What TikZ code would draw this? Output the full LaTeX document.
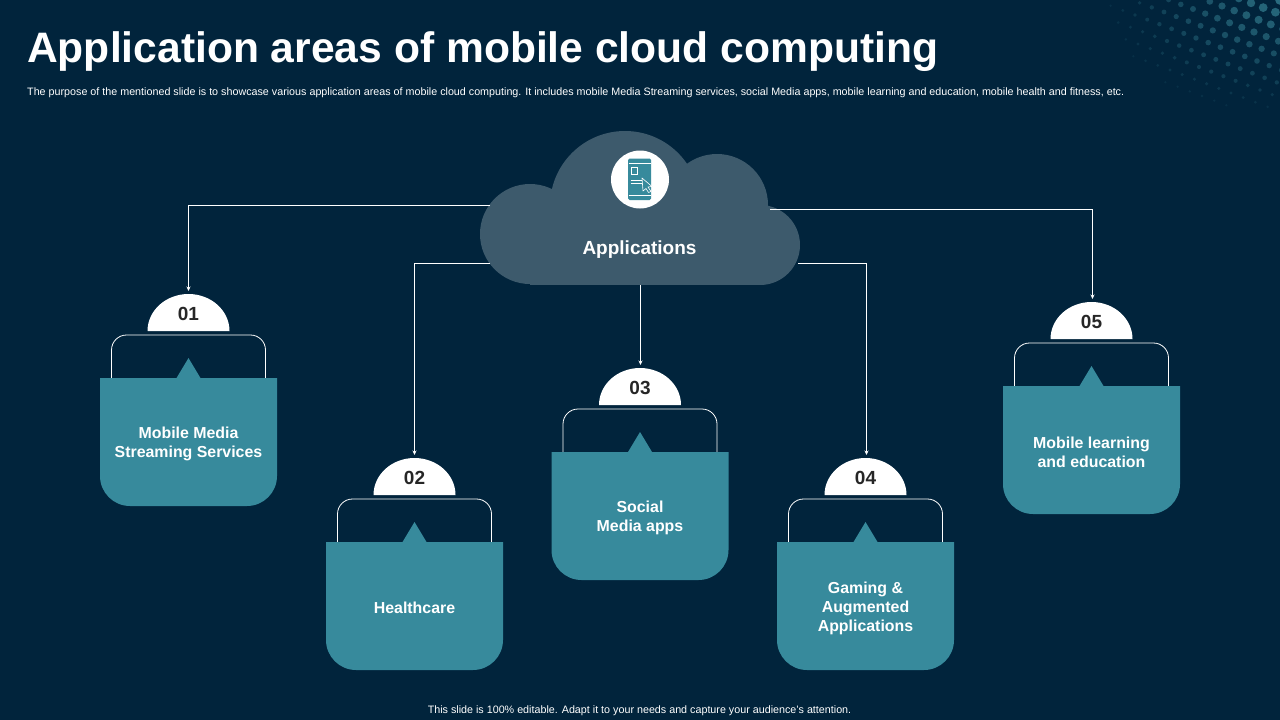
\documentclass[tikz,border=0pt]{standalone}
\usepackage{fontspec}
\setmainfont{Liberation Sans}
\usetikzlibrary{arrows.meta}
\definecolor{slidebg}{HTML}{01243C}
\definecolor{cloudfill}{HTML}{3D5A6C}
\definecolor{cardfill}{HTML}{378A9C}
\definecolor{dotfill}{HTML}{3A8A9C}
\definecolor{numtext}{HTML}{262626}
\tikzset{
  x=1pt, y=-1pt,
  title/.style={
    anchor=west, text=white, inner sep=0pt, font=\bfseries\fontsize{42.6}{46}\selectfont
  },
  note/.style={
    text=white, inner sep=0pt, font=\fontsize{10.74}{12}\selectfont
  },
  conn/.style={
    draw=white, line width=0.7pt, -{Stealth[length=4.5pt,width=4pt]}
  },
  bracket/.style={
    draw=white, line width=0.8pt, rounded corners=15pt
  },
  cardtext/.style={
    align=center, text=white, inner sep=0pt, font=\bfseries\fontsize{15.9}{19}\selectfont
  },
  numtxt/.style={
    text=numtext, inner sep=0pt, font=\bfseries\fontsize{19}{21}\selectfont
  },
  phoneline/.style={
    draw=white, line width=0.6pt
  }
}
\begin{document}
\begin{tikzpicture}
  \useasboundingbox (0,0) rectangle (1280,720);
  \fill[slidebg] (0,0) rectangle (1280,720);

  % halftone dots in the corner
  \begin{scope}
    \clip (0,0) rectangle (1280,720);
    \foreach \i in {-2,...,16} {
      \foreach \j in {-4,...,12} {
        \pgfmathsetmacro{\dotx}{1280-\i*12.2-\j*4.6}
        \pgfmathsetmacro{\doty}{\j*12.2-\i*4.6}
        \pgfmathsetmacro{\dotd}{sqrt(((1280-\dotx)/175)^2+(\doty/112)^2)}
        \ifdim\dotd pt<1pt
          \pgfmathsetmacro{\dotr}{1.2+3.6*(1-\dotd)}
          \pgfmathsetmacro{\dota}{0.1+0.6*(1-\dotd)}
          \fill[dotfill, opacity=\dota] (\dotx,\doty) circle (\dotr);
        \fi
      }
    }
  \end{scope}

  \node[title] (heading) at (27,51.5) {Application areas of mobile cloud computing};
  \node[note, anchor=west] (subhead) at (27,92.5) {The purpose of the mentioned slide is to showcase various application areas of mobile cloud computing. It includes mobile Media Streaming services, social Media apps, mobile learning and education, mobile health and fitness, etc.};
  \node[note] (footer) at (639.5,710.5) {This slide is 100\% editable. Adapt it to your needs and capture your audience's attention.};

  % cloud
  \fill[cloudfill] (530,234) circle (50) (625,206) circle (75) (717,205) circle (51) (760,245) circle (40);
  \fill[cloudfill] (530,200) rectangle (760,285);
  \node[text=white, inner sep=0pt, font=\bfseries\fontsize{19}{21}\selectfont] (apps) at (639.5,250) {Applications};

  % phone icon
  \fill[white] (640,179.5) circle (29);
  \fill[cardfill, rounded corners=1.5pt] (628,158.5) rectangle (651,200);
  \draw[phoneline] (628.5,163.5) -- (650.5,163.5) (628.5,195) -- (650.5,195);
  \draw[phoneline] (631,167.5) rectangle (637.5,174.5);
  \draw[phoneline] (630.5,180) -- (642,180) (630.5,183.5) -- (643,183.5);
  \draw[phoneline, fill=cardfill, line join=round] (642,178) -- (652,186.5) -- (648,187) -- (651,191.5) -- (648.5,192.5) -- (646,188.5) -- (643,191) -- cycle;

  % cards
  \foreach \id/\cx/\cy/\lbl in {
    01/188.5/378/{Mobile Media\\Streaming Services},
    02/414.5/542/{Healthcare},
    03/640/452/{Social\\Media apps},
    04/865.5/542/{Gaming \&\\Augmented\\Applications},
    05/1091.5/386/{Mobile learning\\and education}} {
    \draw[bracket] (\cx-77,\cy) -- (\cx-77,\cy-43) -- (\cx+77,\cy-43) -- (\cx+77,\cy);
    \fill[white] (\cx-41,\cy-47) arc[start angle=180, end angle=360, x radius=41, y radius=37] -- cycle;
    \node[numtxt] (num-\id) at (\cx,\cy-64) {\id};
    \coordinate (badge-\id) at (\cx,\cy-84.5);
    \fill[cardfill] (\cx-12,\cy) -- (\cx,\cy-20) -- (\cx+12,\cy) -- cycle;
    \fill[cardfill] (\cx-88.5,\cy) -- (\cx+88.5,\cy) -- (\cx+88.5,\cy+98)
      arc[start angle=0, end angle=90, radius=30] -- (\cx-58.5,\cy+128)
      arc[start angle=90, end angle=180, radius=30] -- cycle;
    \node[cardtext] (card-\id) at (\cx,\cy+66) {\lbl};
  }

  % connectors
  \coordinate (cloud-nw) at (490,205.5);
  \coordinate (cloud-sw) at (490,263.5);
  \coordinate (cloud-s) at (640.5,285);
  \coordinate (cloud-se) at (798,263.5);
  \coordinate (cloud-ne) at (770,209);
  \draw[conn] (cloud-nw) -| ([yshift=2.5pt]badge-01);
  \draw[conn] (cloud-sw) -| ([yshift=2.5pt]badge-02);
  \draw[conn] (cloud-s) -- ([yshift=2.5pt]cloud-s |- badge-03);
  \draw[conn] (cloud-se) -| ([xshift=1pt,yshift=2.5pt]badge-04);
  \draw[conn] (cloud-ne) -| ([xshift=1pt,yshift=2.5pt]badge-05);
\end{tikzpicture}
\end{document}
